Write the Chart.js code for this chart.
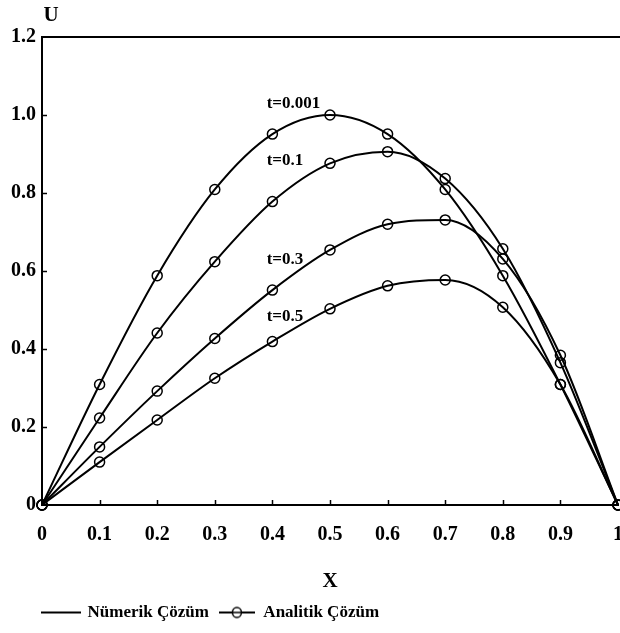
<!DOCTYPE html>
<html>
<head>
<meta charset="utf-8">
<script src="https://cdn.jsdelivr.net/npm/chart.js@4.4.1/dist/chart.umd.min.js"></script>
<style>
  html, body { margin: 0; padding: 0; background: #fff; }
  #wrap { width: 620px; height: 633px; overflow: hidden; position: relative; }
  canvas { display: block; }
</style>
</head>
<body>
<div id="wrap"><canvas id="burgers" width="641" height="633"></canvas></div>
<script>
// ── Burgers equation, u(x,0) = sin(pi x): numeric vs analytic ──

const xs = [0, 0.1, 0.2, 0.3, 0.4, 0.5, 0.6, 0.7, 0.8, 0.9, 1];

const u_t0001 = [0, 0.309, 0.588, 0.809, 0.951, 1.000, 0.951, 0.809, 0.588, 0.309, 0];
const u_t01   = [0, 0.223, 0.441, 0.624, 0.778, 0.876, 0.906, 0.837, 0.657, 0.365, 0];
const u_t03   = [0, 0.149, 0.292, 0.427, 0.551, 0.654, 0.720, 0.731, 0.631, 0.384, 0];
const u_t05   = [0, 0.110, 0.218, 0.325, 0.419, 0.503, 0.562, 0.577, 0.507, 0.309, 0];

const curves = [u_t0001, u_t01, u_t03, u_t05];
const curveNames = ['t=0.001', 't=0.1', 't=0.3', 't=0.5'];
// where each t= label sits, in (x, U)
const curveNameAt = [[0.39, 1.03], [0.39, 0.882], [0.39, 0.628], [0.39, 0.484]];

const xTicks = [0, 0.1, 0.2, 0.3, 0.4, 0.5, 0.6, 0.7, 0.8, 0.9, 1];
const yTicks = [0, 0.2, 0.4, 0.6, 0.8, 1.0, 1.2];

const SERIF = '"Liberation Serif", "Times New Roman", serif';
Chart.defaults.font.family = SERIF;
Chart.defaults.font.weight = 'bold';
Chart.defaults.color = '#000';

const pts = arr => xs.map((x, i) => ({ x, y: arr[i] }));

// legend samples: plain line, and line with an open circle
function makeIcon(w, h, withCircle) {
    const c = document.createElement('canvas');
    c.width = w; c.height = h;
    const g = c.getContext('2d');
    g.strokeStyle = '#000';
    g.lineWidth = 2;
    g.beginPath(); g.moveTo(0, h / 2); g.lineTo(w, h / 2); g.stroke();
    if (withCircle) {
        g.lineWidth = 1.5;
        g.fillStyle = '#fff';
        g.beginPath(); g.ellipse(w / 2, h / 2, 4.5, 5, 0, 0, Math.PI * 2);
        g.fill(); g.stroke();
        g.beginPath(); g.moveTo(w / 2 - 4, h / 2); g.lineTo(w / 2 + 4, h / 2); g.stroke();
    }
    return c;
}
const lineIcon = makeIcon(40, 12, false);
const circleIcon = makeIcon(36, 14, true);

const numericSets = curves.map((c, i) => ({
    label: 'Nümerik ' + curveNames[i], data: pts(c),
    borderColor: '#000', borderWidth: 2, pointRadius: 0,
    cubicInterpolationMode: 'monotone', fill: false, clip: false
}));
const analyticSets = curves.map((c, i) => ({
    label: 'Analitik ' + curveNames[i], data: pts(c),
    showLine: false, borderColor: '#000', backgroundColor: 'transparent',
    pointRadius: 5, pointBorderWidth: 1.5, pointStyle: 'circle', clip: false
}));

const chartDecor = {
    id: 'chartDecor',
    afterLayout(chart) {
        // legend starts under the plot's left edge
        if (chart.legend) { chart.legend.left = 33; chart.legend.right = chart.width; }
    },
    afterDraw(chart) {
        const { ctx, chartArea: a, scales: { x, y } } = chart;
        ctx.save();
        ctx.strokeStyle = '#000';
        // top frame line, runs to the canvas edge
        ctx.lineWidth = 2;
        ctx.beginPath(); ctx.moveTo(a.left - 1, a.top); ctx.lineTo(chart.width, a.top); ctx.stroke();
        // short inward tick marks
        ctx.lineWidth = 1.5;
        x.ticks.forEach(t => {
            if (t.value <= 0 || t.value >= 1) return;
            const px = Math.round(x.getPixelForValue(t.value)) + 0.5;
            ctx.beginPath(); ctx.moveTo(px, a.bottom); ctx.lineTo(px, a.bottom - 5); ctx.stroke();
        });
        y.ticks.forEach(t => {
            if (t.value <= 0 || t.value >= 1.2) return;
            const py = Math.round(y.getPixelForValue(t.value)) + 0.5;
            ctx.beginPath(); ctx.moveTo(a.left, py); ctx.lineTo(a.left + 5, py); ctx.stroke();
        });
        // curve names
        ctx.fillStyle = '#000';
        ctx.font = 'bold 17px ' + SERIF;
        ctx.textAlign = 'left';
        ctx.textBaseline = 'middle';
        curveNames.forEach((s, i) => {
            ctx.fillText(s, x.getPixelForValue(curveNameAt[i][0]), y.getPixelForValue(curveNameAt[i][1]));
        });
        // U axis name above the axis
        ctx.font = 'bold 21px ' + SERIF;
        ctx.textAlign = 'center';
        ctx.fillText('U', a.left + 9, 16);
        ctx.restore();
    }
};

new Chart(document.getElementById('burgers'), {
    type: 'line',
    data: { datasets: [...numericSets, ...analyticSets] },
    plugins: [chartDecor],
    options: {
        responsive: false, animation: false, devicePixelRatio: 1,
        layout: { padding: { left: 0, top: 37, right: 0, bottom: 2 } },
        plugins: {
            tooltip: { enabled: false },
            legend: {
                position: 'bottom', align: 'start',
                labels: {
                    usePointStyle: true, pointStyleWidth: 36, padding: 10,
                    font: { size: 17, weight: 'bold', family: SERIF }, color: '#000',
                    generateLabels: () => [
                        { text: 'Nümerik Çözüm', pointStyle: lineIcon, fillStyle: 'transparent', strokeStyle: 'transparent', lineWidth: 0, fontColor: '#000', hidden: false, datasetIndex: 0 },
                        { text: 'Analitik Çözüm', pointStyle: circleIcon, fillStyle: 'transparent', strokeStyle: 'transparent', lineWidth: 0, fontColor: '#000', hidden: false, datasetIndex: 4 }
                    ]
                }
            }
        },
        scales: {
            x: {
                type: 'linear', min: 0, max: 1,
                afterBuildTicks: s => { s.ticks = xTicks.map(v => ({ value: v })); },
                afterFit: s => { s.height = 89; },
                grid: { display: false, drawTicks: false },
                border: { display: true, color: '#000', width: 2 },
                ticks: {
                    padding: 18, font: { size: 20, weight: 'bold', family: SERIF }, color: '#000',
                    maxRotation: 0, autoSkip: false,
                    callback: v => (v === 0 ? '0' : v === 1 ? '1' : v.toFixed(1))
                },
                title: { display: true, text: 'X', font: { size: 21, weight: 'bold', family: SERIF }, color: '#000', padding: { top: 0, bottom: 0 } }
            },
            y: {
                type: 'linear', min: 0, max: 1.2,
                afterBuildTicks: s => { s.ticks = yTicks.map(v => ({ value: v })); },
                afterFit: s => { s.width = 42; },
                grid: { display: false, drawTicks: false },
                border: { display: true, color: '#000', width: 2 },
                ticks: {
                    padding: 6, font: { size: 20, weight: 'bold', family: SERIF }, color: '#000',
                    callback: v => (v === 0 ? '0' : v.toFixed(1))
                }
            }
        }
    }
});
</script>
</body>
</html>
